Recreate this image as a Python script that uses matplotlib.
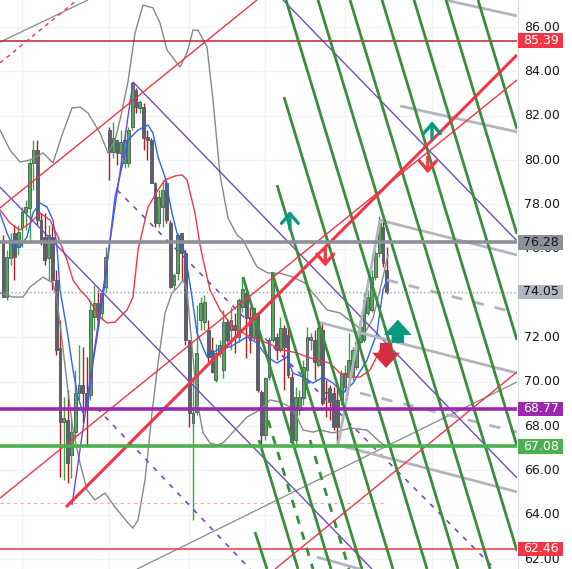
import numpy as np
import matplotlib
matplotlib.use("Agg")
import matplotlib.pyplot as plt
from matplotlib.patches import Rectangle

# ---- candles (bar index 0..101) ----
opens = [76.39, 73.82, 75.58, 76.71, 76.08, 76.98, 77.66, 77.84, 79.87, 80.45,
         77.29, 76.53, 75.58, 76.53, 74.59, 71.52, 68.18, 68.27, 66.69, 67.73,
         69.49, 69.85, 69.49, 69.40, 72.92, 73.55, 73.10, 74.27, 81.35, 80.36,
         80.90, 80.32, 79.87, 79.87, 81.49, 83.16, 82.35, 82.39, 81.04, 80.90,
         78.97, 77.16, 77.88, 78.97, 77.16, 74.36, 74.90, 76.71, 75.81, 71.88,
         68.14, 68.63, 72.78, 72.69, 72.33, 71.43, 70.08, 71.30, 70.53, 72.69,
         72.33, 72.56, 72.02, 73.37, 74.00, 72.92, 72.02, 73.10, 69.54, 67.60,
         70.21, 71.88, 72.02, 71.43, 72.42, 72.11, 70.21, 67.37, 68.73, 69.27,
         70.53, 71.88, 71.88, 70.75, 72.33, 69.54, 69.72, 69.49, 69.18, 69.18,
         69.76, 70.21, 70.21, 70.66, 71.79, 71.88, 73.10, 73.24, 74.72, 75.81,
         76.98, 75.04]
highs = [76.62, 75.94, 76.71, 77.07, 77.07, 77.88, 78.20, 80.00, 80.90, 80.90,
         77.61, 77.61, 77.07, 77.07, 75.04, 72.78, 69.31, 69.63, 68.27, 70.53,
         71.66, 71.57, 71.12, 73.69, 74.36, 74.14, 74.14, 76.08, 81.49, 81.71,
         80.90, 81.35, 81.35, 81.49, 83.52, 83.25, 82.71, 82.57, 81.35, 80.99,
         79.01, 78.65, 79.10, 79.10, 77.29, 74.90, 76.71, 76.71, 75.94, 71.88,
         70.08, 73.46, 73.82, 73.91, 72.78, 72.02, 71.70, 71.88, 73.24, 72.78,
         73.37, 73.10, 73.78, 74.72, 74.05, 73.37, 73.37, 73.14, 69.63, 70.21,
         72.02, 74.95, 72.20, 72.92, 72.56, 72.56, 70.39, 69.76, 69.63, 70.98,
         72.47, 72.20, 72.33, 72.69, 72.65, 70.08, 69.85, 69.76, 69.76, 70.53,
         70.75, 72.20, 71.57, 72.20, 72.78, 74.00, 74.14, 75.04, 75.94, 77.47,
         77.29, 76.08]
lows = [73.82, 73.69, 75.27, 74.59, 75.72, 76.08, 76.84, 76.26, 78.65, 77.07,
        76.17, 75.27, 74.59, 74.14, 71.21, 65.70, 65.57, 65.43, 65.66, 67.37,
        69.18, 68.14, 67.05, 69.18, 72.33, 72.56, 72.78, 74.00, 79.10, 80.09,
        79.78, 79.69, 79.64, 79.69, 81.35, 82.12, 82.12, 80.45, 80.00, 78.97,
        76.98, 76.98, 76.98, 77.16, 74.23, 74.14, 74.59, 74.59, 71.66, 67.96,
        63.76, 68.50, 72.33, 72.33, 70.89, 70.40, 69.99, 71.12, 70.17, 71.79,
        71.43, 71.30, 71.79, 73.14, 71.07, 71.30, 71.88, 69.54, 67.00, 67.37,
        70.08, 71.79, 70.98, 71.34, 69.63, 70.17, 67.15, 67.05, 68.50, 68.95,
        69.76, 71.43, 70.08, 70.66, 68.95, 68.41, 68.27, 67.82, 67.15, 68.95,
        69.54, 70.08, 70.08, 70.53, 71.66, 71.79, 73.01, 73.14, 74.59, 75.63,
        75.18, 73.96]
closes = [73.82, 75.63, 76.39, 75.63, 76.75, 77.66, 77.88, 79.87, 80.45, 77.29,
          76.39, 75.49, 76.62, 74.59, 71.43, 68.18, 68.36, 66.33, 67.73, 69.49,
          69.85, 69.49, 68.86, 73.24, 73.55, 72.78, 74.00, 75.63, 80.36, 80.99,
          80.32, 80.81, 80.90, 81.35, 83.47, 82.39, 82.62, 80.99, 80.90, 78.97,
          77.16, 78.33, 78.65, 77.29, 74.27, 74.81, 76.62, 75.81, 71.88, 68.59,
          68.59, 71.30, 73.55, 73.59, 71.12, 70.44, 71.30, 71.66, 72.69, 71.88,
          72.78, 72.33, 73.69, 74.18, 72.87, 71.88, 73.33, 69.63, 67.60, 70.17,
          71.88, 74.90, 71.43, 72.42, 71.57, 70.30, 67.28, 69.31, 69.31, 70.66,
          72.02, 72.02, 70.89, 72.42, 69.04, 69.49, 69.09, 67.96, 67.96, 70.39,
          70.39, 70.98, 71.43, 71.79, 72.47, 73.69, 73.82, 74.72, 75.81, 77.16,
          75.36, 74.05]

# ---- indicator curves (bar index, price) ----
bb_up_x = [-0.79, 1.84, 4.47, 7.11, 10.53, 13.16, 15.53, 18.16, 20.26, 22.37, 25.53, 27.63,
           29.47, 30.79, 32.89, 34.74, 36.84, 39.47, 41.32, 43.16, 46.58, 48.42, 50.0, 51.32,
           53.68, 55.26, 57.11, 59.21, 61.58, 63.16, 66.84, 69.74, 72.89, 76.32, 79.47, 81.58,
           85.26, 88.68, 92.11, 95.26, 97.37, 99.21, 101.32]
bb_up_y = [81.35, 80.45, 79.91, 80.0, 80.32, 79.87, 81.13, 82.35, 82.39, 82.12, 81.22, 80.32,
           80.90, 81.81, 83.52, 85.73, 86.99, 86.86, 86.18, 84.96, 84.20, 84.83, 85.86, 85.86,
           85.10, 82.71, 79.33, 77.38, 76.62, 76.39, 75.18, 74.90, 74.90, 74.72, 74.45, 74.0,
           73.24, 73.10, 72.65, 72.20, 72.87, 74.14, 75.72]
bb_lo_x = [-0.79, 2.63, 5.26, 7.11, 10.53, 13.16, 14.21, 15.53, 16.84, 18.42, 20.26, 22.11,
           24.21, 26.84, 29.47, 32.89, 34.21, 35.53, 37.37, 39.21, 40.79, 42.63, 44.47, 46.05,
           47.37, 48.42, 49.74, 51.05, 52.63, 54.47, 56.32, 57.89, 60.53, 64.21, 67.63, 70.26,
           72.89, 75.53, 77.37, 78.95, 81.58, 83.42, 86.84, 91.32, 95.79, 99.21, 101.05]
bb_lo_y = [74.0, 73.82, 73.82, 74.27, 74.72, 74.45, 73.69, 71.88, 69.94, 67.82, 66.33, 65.12,
           64.67, 64.98, 64.35, 63.63, 63.40, 63.76, 65.57, 68.59, 70.84, 73.10, 74.0, 74.27,
           74.59, 74.14, 71.57, 69.18, 67.69, 67.24, 67.15, 67.24, 67.73, 68.41, 68.73, 69.18,
           69.09, 68.86, 68.41, 67.82, 67.73, 67.82, 67.69, 67.91, 67.82, 67.28, 67.05]
ma_fast_x = [-0.79, 1.05, 2.63, 4.47, 6.32, 7.89, 9.74, 11.58, 13.16, 14.21, 15.0, 16.84,
             18.42, 19.74, 21.05, 22.37, 23.68, 25.53, 26.58, 27.63, 29.47, 31.32, 32.89, 35.53,
             38.16, 39.47, 40.79, 42.63, 44.47, 46.05, 47.89, 49.74, 51.05, 53.68, 56.32, 59.74,
             64.21, 66.84, 69.47, 72.11, 74.74, 76.32, 78.95, 81.58, 84.21, 86.84, 89.47, 92.11,
             95.79, 98.42, 100.0, 101.3]
ma_fast_y = [77.61, 76.71, 76.08, 76.08, 76.53, 77.61, 78.06, 77.88, 77.29, 76.08, 74.14, 72.33,
             70.53, 69.31, 68.59, 69.04, 70.84, 72.92, 74.14, 75.63, 78.33, 79.69, 80.90, 81.35,
             81.58, 81.22, 80.14, 79.23, 77.61, 76.53, 75.81, 73.82, 72.20, 71.12, 71.43, 71.57,
             72.02, 71.75, 71.12, 70.84, 71.12, 70.39, 70.21, 69.94, 70.21, 69.94, 69.49, 69.94,
             70.98, 72.20, 74.14, 74.72]
ma_slow_x = [-0.79, 1.84, 4.47, 7.11, 9.74, 12.37, 14.47, 16.84, 18.42, 20.26, 22.11, 25.53,
             27.37, 29.47, 32.63, 34.21, 35.53, 38.16, 40.79, 42.63, 45.26, 47.11, 48.42, 50.53,
             51.84, 53.16, 54.47, 57.11, 60.53, 65.0, 69.47, 73.68, 77.37, 80.0, 82.63, 86.05,
             88.68, 91.32, 93.95, 96.58, 99.21, 101.3]
ma_slow_y = [77.75, 77.16, 76.84, 77.16, 77.61, 77.29, 76.53, 75.49, 74.59, 74.14, 73.82, 72.92,
             72.65, 72.69, 73.24, 73.82, 75.94, 77.88, 78.65, 79.10, 79.28, 79.33, 79.10, 77.61,
             76.17, 75.13, 74.14, 73.24, 72.47, 72.02, 71.75, 71.43, 71.30, 71.12, 70.98, 70.84,
             70.39, 70.21, 70.21, 70.53, 71.43, 71.75]

# ---- horizontal levels ----
level_prices = [85.39, 76.28, 74.05, 68.77, 67.08, 62.46]
level_colors = ["#b22833", "#8e9099", "#9598a1", "#9c27b0", "#4caf50", "#f23645"]
level_text = ["white", "#131722", "#131722", "white", "white", "white"]
level_box = ["#f23645", "#8e9099", "#b2b5be", "#9c27b0", "#4caf50", "#f23645"]

# ---- drawn trend lines ((i0, p0), (i1, p1)) ----
red_thick = [((16.6, 64.35), (135.26, 84.74))]
red_thin = [((-0.79, 77.84), (66.84, 87.22)),
            ((-0.79, 64.75), (135.26, 83.61)),
            ((71.58, 61.55), (135.26, 70.44))]
red_dashed = [((-0.79, 84.38), (19.47, 87.22))]
gray_thin = [((-0.79, 85.32), (22.37, 87.22)),
             ((35.26, 61.55), (135.26, 69.99))]
purple_solid = [((-0.79, 78.78), (97.1, 61.55)),
                ((34.21, 83.52), (135.26, 65.66)),
                ((73.68, 87.22), (135.26, 76.35)),
                ((18.16, 64.44), (34.21, 83.52))]
purple_dashed = [((30.0, 78.65), (129.5, 61.55)),
                 ((24.74, 68.81), (65.0, 61.55))]
green_solid = [((66.32, 63.22), (69.47, 61.55)),
               ((67.37, 67.37), (77.63, 61.55)),
               ((63.16, 74.72), (86.32, 61.55)),
               ((70.79, 74.95), (94.47, 61.55)),
               ((72.11, 78.87), (102.63, 61.55)),
               ((73.95, 82.84), (111.58, 61.55)),
               ((74.47, 87.22), (119.74, 61.55)),
               ((82.89, 87.22), (128.16, 61.55)),
               ((91.32, 87.22), (135.26, 62.37)),
               ((99.74, 87.22), (135.26, 67.10)),
               ((108.16, 87.22), (135.26, 71.88)),
               ((116.58, 87.22), (135.26, 76.66)),
               ((125.0, 87.22), (135.26, 81.40))]
green_dashed = [((69.74, 68.27), (81.58, 61.55)),
                ((80.79, 67.37), (91.05, 61.55))]
fork_solid = [((104.5, 82.44), (135.26, 81.27)),
              ((116.3, 87.22), (135.26, 86.50)),
              ((99.2, 77.29), (135.26, 75.72)),
              ((82.9, 72.69), (135.26, 70.39)),
              ((88.16, 67.15), (135.26, 65.03)),
              ((82.6, 62.09), (93.95, 61.55)),
              ((88.16, 67.15), (99.2, 77.29))]
fork_dashed = [((101.05, 74.59), (135.26, 73.10)),
               ((93.95, 69.49), (135.26, 67.73))]

# arrows: (bar index, tail price, tip price)
up_small = [(75.5, 76.90, 77.70), (112.9, 80.95, 81.75)]
down_small = [(84.8, 75.98, 75.20), (111.8, 80.13, 79.40)]
up_big = [(103.9, 71.75, 72.80)]
down_big = [(100.8, 71.75, 70.62)]

price_ticks = [86, 84, 82, 80, 78, 76, 74, 72, 70, 68, 66, 64, 62]
scale_labels = [86, 84, 82, 80, 78, 76, 72, 70, 68, 66, 64, 62]
date_ticks = [5, 28, 49, 69, 90, 113]

fig = plt.figure(figsize=(5.72, 5.69), dpi=100)
ax = fig.add_axes([0, 0, 517 / 572, 1])
ax.set_xlim(-0.79, 135.26)
ax.set_ylim(61.553, 87.218)
ax.set_axis_off()

for p in price_ticks:
    ax.axhline(p, color="#f0f3fa", lw=1, zorder=0)
for d in date_ticks:
    ax.axvline(d, color="#f0f3fa", lw=1, zorder=0)

idx = np.arange(len(opens))
o = np.array(opens); c = np.array(closes)
up = c >= o
wick_col = np.where(up, "#43a047", "#b71c1c")
ax.vlines(idx, lows, highs, colors=wick_col, lw=1, zorder=2)
body_col = np.where(up, "#4caf50", "#5d606b")
ax.bar(idx, np.maximum(np.abs(c - o), 0.05), bottom=np.minimum(o, c), width=0.72,
       color=body_col, edgecolor="#5d606b", linewidth=0.7, zorder=2.5)

ax.plot(bb_up_x, bb_up_y, color="#888888", lw=1, zorder=3)
ax.plot(bb_lo_x, bb_lo_y, color="#888888", lw=1, zorder=3)
ax.plot(ma_fast_x, ma_fast_y, color="#2962ff", lw=1, zorder=3)
ax.plot(ma_slow_x, ma_slow_y, color="#f23645", lw=1, zorder=3)

ax.plot([-0.79, 101], [64.53, 64.53], color="#f7a6a6", lw=0.8, ls=(0, (3, 3)), zorder=3)


def draw(lines, **kw):
    for (x0, y0), (x1, y1) in lines:
        ax.plot([x0, x1], [y0, y1], solid_capstyle="butt", **kw)


draw(gray_thin, color="#8a8a8a", lw=0.9, zorder=4)
draw(purple_solid, color="#6f4cc4", lw=1, zorder=4)
draw(purple_dashed, color="#6f4cc4", lw=1.2, ls=(0, (3, 4)), zorder=4)
draw(fork_solid, color="#b2b5be", lw=2, zorder=4)
draw(fork_dashed, color="#b2b5be", lw=2, ls=(0, (4, 4)), zorder=4)
draw(green_solid, color="#388e3c", lw=2, zorder=4.5)
draw(green_dashed, color="#388e3c", lw=2, ls=(0, (3, 3)), zorder=4.5)
draw(red_thin, color="#f23645", lw=1, zorder=4.6)
draw(red_dashed, color="#f23645", lw=1, ls=(0, (3, 3)), zorder=4.6)
draw(red_thick, color="#f23645", lw=2.2, zorder=4.7)

for p, col in zip(level_prices, level_colors):
    if p == 74.05:
        ax.axhline(p, color=col, lw=0.9, ls=(0, (1, 2)), zorder=4)
    elif p in (85.39, 62.46):
        ax.axhline(p, color=col, lw=1.1, zorder=4)
    else:
        ax.axhline(p, color=col, lw=2.6, zorder=4.8)

small_style = "->,head_length=0.35,head_width=0.3"
for x, a, b in up_small:
    ax.annotate("", xy=(x, b), xytext=(x, a), zorder=6,
                arrowprops=dict(arrowstyle=small_style, mutation_scale=20, lw=2.4,
                                color="#089981", shrinkA=0, shrinkB=0))
for x, a, b in down_small:
    ax.annotate("", xy=(x, b), xytext=(x, a), zorder=6,
                arrowprops=dict(arrowstyle=small_style, mutation_scale=20, lw=2.4,
                                color="#f23645", shrinkA=0, shrinkB=0))
big_style = "simple,head_length=0.55,head_width=1.0,tail_width=0.45"
for x, a, b in up_big:
    ax.annotate("", xy=(x, b), xytext=(x, a), zorder=6,
                arrowprops=dict(arrowstyle=big_style, mutation_scale=20, color="#089981",
                                lw=0, shrinkA=0, shrinkB=0))
for x, a, b in down_big:
    ax.annotate("", xy=(x, b), xytext=(x, a), zorder=6,
                arrowprops=dict(arrowstyle=big_style, mutation_scale=20, color="#d32f3f",
                                lw=0, shrinkA=0, shrinkB=0))

# price scale
ax2 = fig.add_axes([517 / 572, 0, 55 / 572, 1])
ax2.set_xlim(0, 55)
ax2.set_ylim(61.553, 87.218)
ax2.set_axis_off()
ax2.axvline(0.5, color="#e0e3eb", lw=1)
for p in scale_labels:
    ax2.text(25, p, f"{p:.2f}", ha="center", va="center", fontsize=9, color="#131722")
for p, bg, tc in zip(level_prices, level_box, level_text):
    ax2.add_patch(Rectangle((0.5, p - 0.33), 45.5, 0.66, facecolor=bg, edgecolor="none", zorder=3))
    ax2.text(24, p, f"{p:.2f}", ha="center", va="center", fontsize=9, color=tc, zorder=4)

fig.savefig("out.png", dpi=100)
